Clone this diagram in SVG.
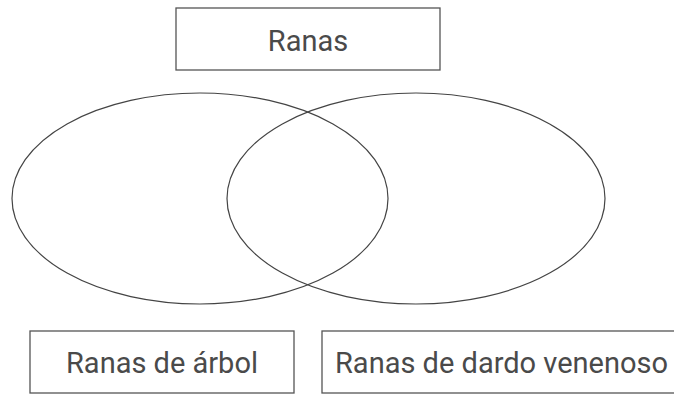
<svg xmlns="http://www.w3.org/2000/svg" width="674" height="394" viewBox="0 0 674 394">
<style>
.box{fill:#fff;stroke:#555;stroke-width:1.3}
.ell{fill:none;stroke:#444;stroke-width:1.2}
.lbl{font-family:Roboto,"Liberation Sans",sans-serif;font-size:29px;fill:#4a4a4a}
</style>
<rect width="674" height="394" fill="#fff"/>
<g id="title">
<rect class="box" x="176" y="8" width="264" height="62"/>
<text class="lbl" x="308" y="51" text-anchor="middle">Ranas</text>
</g>
<g id="set-left"><ellipse class="ell" cx="200" cy="198.5" rx="188" ry="105.5"/></g>
<g id="set-right"><ellipse class="ell" cx="416" cy="198.5" rx="189" ry="105.5"/></g>
<g id="label-left">
<rect class="box" x="30" y="331" width="264" height="62"/>
<text class="lbl" x="162" y="373" text-anchor="middle">Ranas de árbol</text>
</g>
<g id="label-right">
<rect class="box" x="322" y="331" width="400" height="62"/>
<text class="lbl" x="335" y="373">Ranas de dardo venenoso</text>
</g>
<g id="connectors"></g>
</svg>
